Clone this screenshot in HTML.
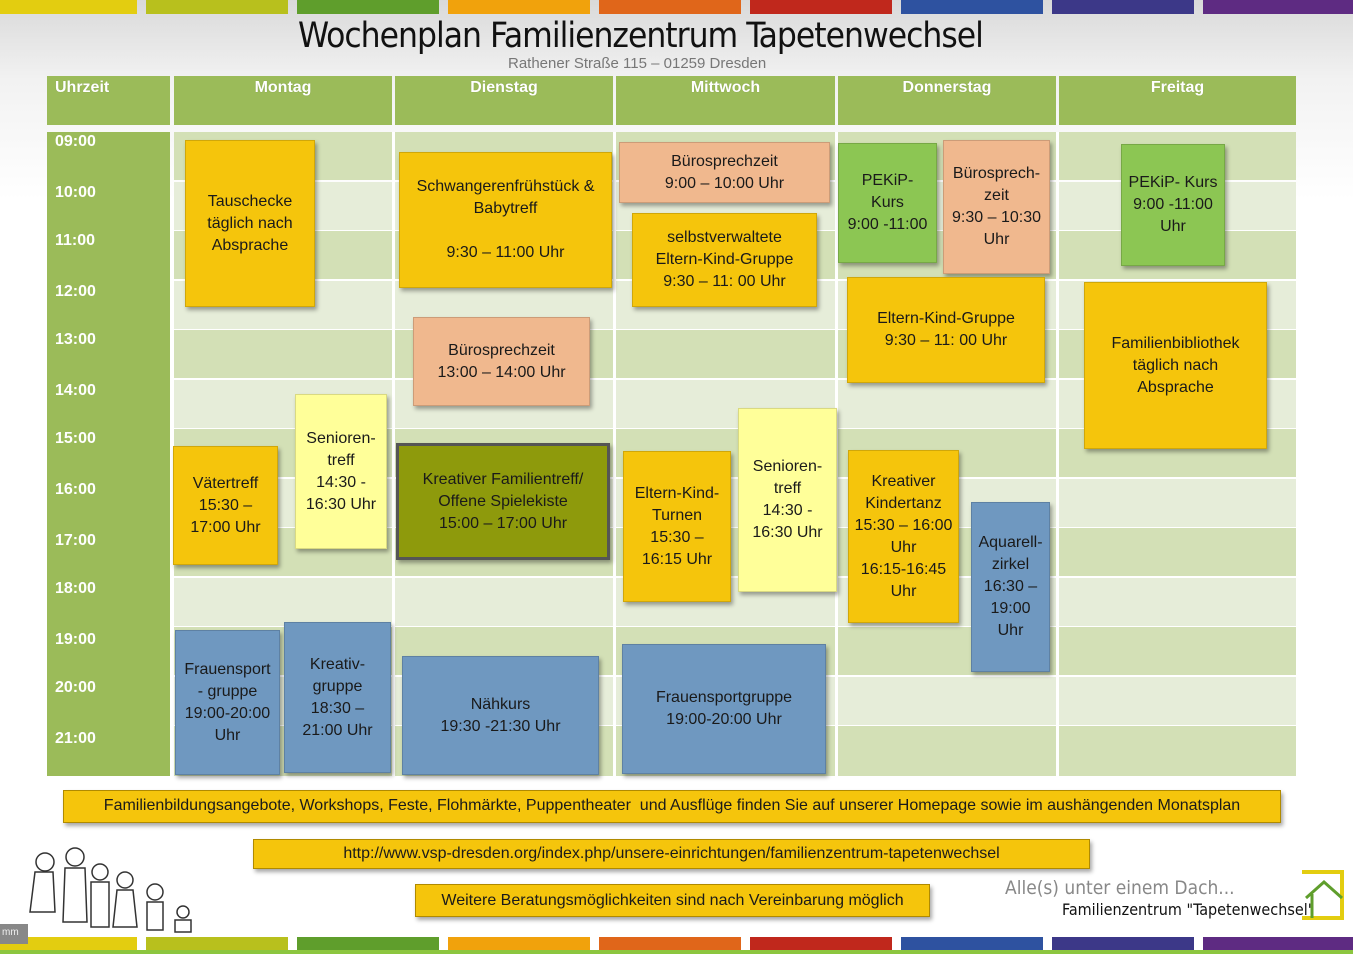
<!DOCTYPE html>
<html><head><meta charset="utf-8"><style>
*{margin:0;padding:0;box-sizing:border-box}
body{width:1353px;height:954px;position:relative;overflow:hidden;background:linear-gradient(#d9d9d9 0,#f2f2f2 80px,#fff 200px);font-family:"Liberation Sans",sans-serif}
.s{position:absolute;height:14px}
.a{position:absolute}
.h{background:#9bbb59;color:#fff;font-size:16px;text-align:center;padding-top:3px;font-weight:bold;text-shadow:0 0 1px rgba(0,0,0,.2)}
.r{position:absolute;left:174px;width:1122px;height:48px}
.t{position:absolute;left:55px;color:#fff;font-size:16px;font-weight:bold}
.e{position:absolute;display:flex;align-items:center;justify-content:center;text-align:center;font-size:16px;line-height:22px;color:#1a1a1a;box-shadow:2px 3px 4px rgba(0,0,0,.35);border:1px solid rgba(0,0,0,.15)}
.y{background:#f5c50c}.p{background:#f0b88e}.g{background:#8cc653}.ly{background:#ffff99}.o{background:#8e9a0c;border:3px solid #555}.b{background:#6f98c0}
.bar{position:absolute;background:#f5c50c;font-size:16px;text-align:center;padding-top:6px;color:#1a1a1a;box-shadow:2px 3px 4px rgba(0,0,0,.35);border:1px solid #b08a00;white-space:nowrap}
</style></head><body>
<div class="s" style="left:0;width:137px;top:0;background:#e3cd10"></div>
<div class="s" style="left:146px;width:142px;top:0;background:#b8c01d"></div>
<div class="s" style="left:297px;width:142px;top:0;background:#5f9e2c"></div>
<div class="s" style="left:448px;width:142px;top:0;background:#f1a20c"></div>
<div class="s" style="left:599px;width:142px;top:0;background:#e0661a"></div>
<div class="s" style="left:750px;width:142px;top:0;background:#c0281c"></div>
<div class="s" style="left:901px;width:142px;top:0;background:#2e52a0"></div>
<div class="s" style="left:1052px;width:142px;top:0;background:#3c3888"></div>
<div class="s" style="left:1203px;width:150px;top:0;background:#5e2b82"></div>

<div class="s" style="left:0;width:137px;top:937px;height:15px;background:#e3cd10"></div>
<div class="s" style="left:146px;width:142px;top:937px;height:15px;background:#b8c01d"></div>
<div class="s" style="left:297px;width:142px;top:937px;height:15px;background:#5f9e2c"></div>
<div class="s" style="left:448px;width:142px;top:937px;height:15px;background:#f1a20c"></div>
<div class="s" style="left:599px;width:142px;top:937px;height:15px;background:#e0661a"></div>
<div class="s" style="left:750px;width:142px;top:937px;height:15px;background:#c0281c"></div>
<div class="s" style="left:901px;width:142px;top:937px;height:15px;background:#2e52a0"></div>
<div class="s" style="left:1052px;width:142px;top:937px;height:15px;background:#3c3888"></div>
<div class="s" style="left:1203px;width:150px;top:937px;height:15px;background:#5e2b82"></div>
<div class="s" style="left:0;width:1353px;top:950px;height:4px;background:#8cc63f"></div>

<div class="a" style="left:298px;top:16px;font-size:35px;color:#111;letter-spacing:-1px;white-space:nowrap;font-family:'DejaVu Sans Condensed','Liberation Sans Narrow',sans-serif">Wochenplan Familienzentrum Tapetenwechsel</div>
<div class="a" style="left:508px;top:55px;font-size:15px;color:#777">Rathener Straße 115 – 01259 Dresden</div>

<div class="a h" style="left:47px;top:76px;width:123px;height:49px;text-align:left;padding-left:8px">Uhrzeit</div>
<div class="a h" style="left:174px;top:76px;width:218px;height:49px">Montag</div>
<div class="a h" style="left:395px;top:76px;width:218px;height:49px">Dienstag</div>
<div class="a h" style="left:616px;top:76px;width:219px;height:49px">Mittwoch</div>
<div class="a h" style="left:838px;top:76px;width:218px;height:49px">Donnerstag</div>
<div class="a h" style="left:1059px;top:76px;width:237px;height:49px">Freitag</div>

<div class="a" style="left:47px;top:132px;width:123px;height:644px;background:#9bbb59"></div>
<div class="r" style="top:132px;background:#d3e0b6"></div>
<div class="r" style="top:182px;background:#e6edd9"></div>
<div class="r" style="top:231px;background:#d3e0b6"></div>
<div class="r" style="top:281px;background:#e6edd9"></div>
<div class="r" style="top:330px;background:#d3e0b6"></div>
<div class="r" style="top:380px;background:#e6edd9"></div>
<div class="r" style="top:429px;background:#d3e0b6"></div>
<div class="r" style="top:479px;background:#e6edd9"></div>
<div class="r" style="top:528px;background:#d3e0b6"></div>
<div class="r" style="top:578px;background:#e6edd9"></div>
<div class="r" style="top:627px;background:#d3e0b6"></div>
<div class="r" style="top:677px;background:#e6edd9"></div>
<div class="r" style="top:726px;height:50px;background:#d3e0b6"></div>
<div class="a" style="left:392px;top:132px;width:3px;height:644px;background:#fff"></div>
<div class="a" style="left:613px;top:132px;width:3px;height:644px;background:#fff"></div>
<div class="a" style="left:835px;top:132px;width:3px;height:644px;background:#fff"></div>
<div class="a" style="left:1056px;top:132px;width:3px;height:644px;background:#fff"></div>

<div class="t" style="top:133px">09:00</div><div class="t" style="top:184px">10:00</div>
<div class="t" style="top:232px">11:00</div><div class="t" style="top:283px">12:00</div>
<div class="t" style="top:331px">13:00</div><div class="t" style="top:382px">14:00</div>
<div class="t" style="top:430px">15:00</div><div class="t" style="top:481px">16:00</div>
<div class="t" style="top:532px">17:00</div><div class="t" style="top:580px">18:00</div>
<div class="t" style="top:631px">19:00</div><div class="t" style="top:679px">20:00</div>
<div class="t" style="top:730px">21:00</div>

<div class="e y" style="left:185px;top:140px;width:130px;height:167px">Tauschecke<br>täglich nach<br>Absprache</div>
<div class="e y" style="left:399px;top:152px;width:213px;height:136px">Schwangerenfrühstück &amp;<br>Babytreff<br><br>9:30 – 11:00 Uhr</div>
<div class="e p" style="left:619px;top:142px;width:211px;height:61px">Bürosprechzeit<br>9:00 – 10:00 Uhr</div>
<div class="e y" style="left:632px;top:213px;width:185px;height:94px">selbstverwaltete<br>Eltern-Kind-Gruppe<br>9:30 – 11: 00 Uhr</div>
<div class="e g" style="left:838px;top:143px;width:99px;height:120px">PEKiP-<br>Kurs<br>9:00 -11:00</div>
<div class="e p" style="left:943px;top:140px;width:107px;height:134px">Bürosprech-<br>zeit<br>9:30 – 10:30<br>Uhr</div>
<div class="e g" style="left:1121px;top:144px;width:104px;height:122px">PEKiP- Kurs<br>9:00 -11:00<br>Uhr</div>
<div class="e y" style="left:847px;top:277px;width:198px;height:106px">Eltern-Kind-Gruppe<br>9:30 – 11: 00 Uhr</div>
<div class="e y" style="left:1084px;top:282px;width:183px;height:167px">Familienbibliothek<br>täglich nach<br>Absprache</div>
<div class="e p" style="left:413px;top:317px;width:177px;height:89px">Bürosprechzeit<br>13:00 – 14:00 Uhr</div>
<div class="e ly" style="left:295px;top:394px;width:92px;height:155px">Senioren-<br>treff<br>14:30 -<br>16:30 Uhr</div>
<div class="e y" style="left:173px;top:446px;width:105px;height:119px">Vätertreff<br>15:30 –<br>17:00 Uhr</div>
<div class="e o" style="left:396px;top:443px;width:214px;height:117px">Kreativer Familientreff/<br>Offene Spielekiste<br>15:00 – 17:00 Uhr</div>
<div class="e y" style="left:623px;top:451px;width:108px;height:151px">Eltern-Kind-<br>Turnen<br>15:30 –<br>16:15 Uhr</div>
<div class="e ly" style="left:738px;top:408px;width:99px;height:184px">Senioren-<br>treff<br>14:30 -<br>16:30 Uhr</div>
<div class="e y" style="left:848px;top:450px;width:111px;height:173px">Kreativer<br>Kindertanz<br>15:30 – 16:00<br>Uhr<br>16:15-16:45<br>Uhr</div>
<div class="e b" style="left:971px;top:502px;width:79px;height:170px">Aquarell-<br>zirkel<br>16:30 –<br>19:00<br>Uhr</div>
<div class="e b" style="left:175px;top:630px;width:105px;height:145px">Frauensport<br>- gruppe<br>19:00-20:00<br>Uhr</div>
<div class="e b" style="left:284px;top:622px;width:107px;height:151px">Kreativ-<br>gruppe<br>18:30 –<br>21:00 Uhr</div>
<div class="e b" style="left:402px;top:656px;width:197px;height:119px">Nähkurs<br>19:30 -21:30 Uhr</div>
<div class="e b" style="left:622px;top:644px;width:204px;height:130px">Frauensportgruppe<br>19:00-20:00 Uhr</div>

<div class="bar" style="left:63px;top:790px;width:1218px;height:33px">Familienbildungsangebote, Workshops, Feste, Flohmärkte, Puppentheater &nbsp;und Ausflüge finden Sie auf unserer Homepage sowie im aushängenden Monatsplan</div>
<div class="bar" style="left:253px;top:839px;width:837px;height:30px;padding-top:5px">http://www.vsp-dresden.org/index.php/unsere-einrichtungen/familienzentrum-tapetenwechsel</div>
<div class="bar" style="left:415px;top:884px;width:515px;height:33px;padding-top:7px">Weitere Beratungsmöglichkeiten sind nach Vereinbarung möglich</div>

<svg class="a" style="left:25px;top:842px" width="175" height="92" fill="none" stroke="#333" stroke-width="1.5">
<circle cx="20" cy="20" r="9"/><path d="M10 30 L5 70 L30 70 L28 30 Z"/>
<circle cx="50" cy="15" r="9"/><path d="M40 26 L38 80 L62 80 L60 26 Z"/>
<circle cx="75" cy="30" r="8"/><path d="M66 40 L66 85 L84 85 L84 40 Z"/>
<circle cx="100" cy="38" r="8"/><path d="M92 48 L88 85 L112 85 L108 48 Z"/>
<circle cx="130" cy="50" r="8"/><path d="M122 60 L122 88 L138 88 L138 60 Z"/>
<circle cx="158" cy="70" r="6"/><path d="M150 78 L150 90 L166 90 L166 78 Z"/>
</svg>
<div class="a" style="left:1005px;top:877px;font-size:19px;color:#888;white-space:nowrap;font-family:'DejaVu Sans Condensed',sans-serif">Alle(s) unter einem Dach...</div>
<div class="a" style="left:1062px;top:900px;font-size:16px;color:#111;white-space:nowrap;font-family:'DejaVu Sans Condensed',sans-serif">Familienzentrum "Tapetenwechsel"</div>
<svg class="a" style="left:1298px;top:868px" width="50" height="58" fill="none">
<path d="M4 4 H44 V50 H4" stroke="#e3cd10" stroke-width="4"/><path d="M8 30 L26 14 L44 30 M14 26 V50" stroke="#5f9e2c" stroke-width="3"/>
</svg>
<div class="a" style="left:0;top:924px;width:28px;height:20px;background:#888;color:#eee;font-size:10px;padding:3px 2px">mm</div>
</body></html>
